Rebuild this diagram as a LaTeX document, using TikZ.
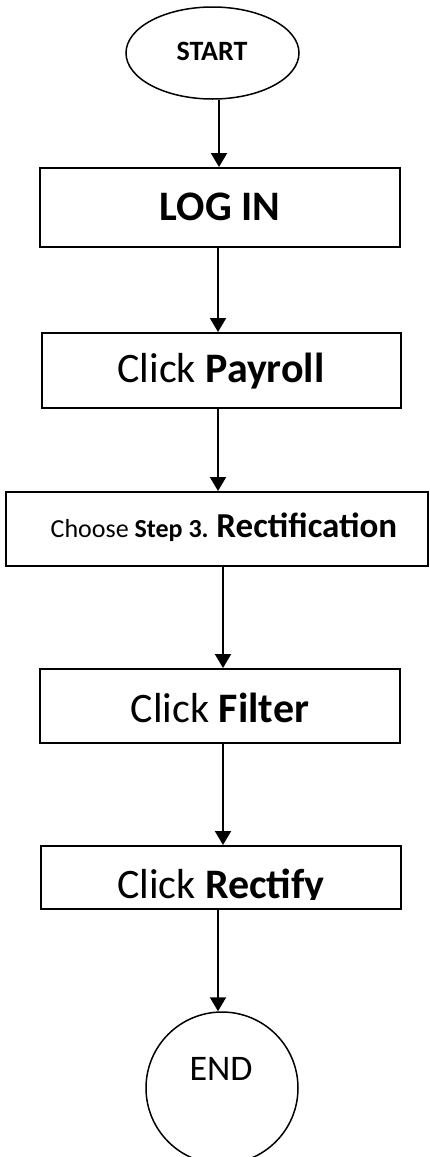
\documentclass[tikz,border=0pt]{standalone}
\usepackage{fontspec}
\setmainfont{Carlito}
\usetikzlibrary{arrows.meta,shapes.geometric}
\begin{document}
\begin{tikzpicture}[x=1pt,y=-1pt,
  box/.style={draw,line width=2pt,inner sep=0pt,rectangle},
  arr/.style={line width=2pt,-{Triangle[length=14pt,width=16pt]}},
  lbl/.style={anchor=base,inner sep=0pt},
  big/.style={font=\fontsize{42}{50}\selectfont},
  bigb/.style={font=\fontsize{42}{50}\selectfont\bfseries}]
\fill[white] (0,0) rectangle (429,1157);
\useasboundingbox (0,0) rectangle (429,1157);
% shapes
\node[draw,line width=1.5pt,ellipse,inner sep=0pt,minimum width=173pt,minimum height=92pt] (start) at (212.5,53) {};
\node[box,minimum width=360pt,minimum height=79pt] (login) at (220,207.5) {};
\node[box,minimum width=359pt,minimum height=75pt] (payroll) at (221.5,370.5) {};
\node[box,minimum width=422pt,minimum height=74pt] (choose) at (217,529) {};
\node[box,minimum width=360pt,minimum height=74pt] (filter) at (220,706) {};
\node[box,minimum width=360pt,minimum height=63pt] (rectify) at (221,877.5) {};
\node[draw,line width=1.5pt,circle,inner sep=0pt,minimum size=152pt] (endc) at (222,1088) {};
% texts
\node[lbl,font=\fontsize{28}{32}\selectfont\bfseries] (tstart) at (212,60) {START};
\node[lbl,bigb] (tlogin) at (220,220) {LOG IN};
\node[lbl,big] (tpayroll) at (221,382) {Click \textbf{Payroll}};
\node[lbl] (tchoose) at (224,537) {\fontsize{26}{30}\selectfont Choose \textbf{Step 3.} \fontsize{35}{40}\selectfont\textbf{Rectification}};
\node[lbl,big] (tfilter) at (220,722) {Click \textbf{Filter}};
\begin{scope}
\clip (41,846) rectangle (401,899);
\node[lbl,big] (trectify) at (221,898) {Click \textbf{Rectify}};
\end{scope}
\node[lbl,font=\fontsize{36}{40}\selectfont] (tend) at (221,1080) {END};
% connectors
\coordinate (xa) at (219,0);
\coordinate (xb) at (218,0);
\coordinate (xc) at (223,0);
\draw[arr] (start.south -| xa) -- (login.north -| xa);
\draw[arr] (login.south -| xb) -- (payroll.north -| xb);
\draw[arr] (payroll.south -| xb) -- (choose.north -| xb);
\draw[arr] (choose.south -| xc) -- (filter.north -| xc);
\draw[arr] (filter.south -| xc) -- (rectify.north -| xc);
\draw[arr] (rectify.south -| xb) -- (endc.north -| xb);
\end{tikzpicture}
\end{document}
